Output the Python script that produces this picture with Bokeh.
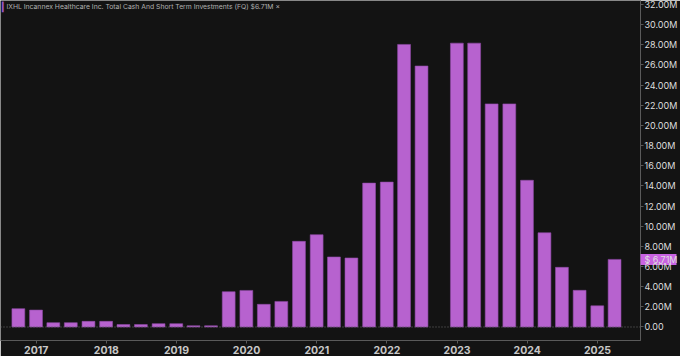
import numpy as np
import pandas as pd
from bokeh.plotting import figure
from bokeh.models import (ColumnDataSource, LinearAxis, DatetimeAxis, Range1d,
                          FixedTicker, Span, Label, YearsTicker, AllLabels)
from bokeh.embed import file_html
from bokeh.resources import INLINE

# ---- data ----
quarter_ends = ["2016-09-30", "2016-12-31", "2017-03-31", "2017-06-30", "2017-09-30",
                "2017-12-31", "2018-03-31", "2018-06-30", "2018-09-30", "2018-12-31",
                "2019-03-31", "2019-06-30", "2019-09-30", "2019-12-31", "2020-03-31",
                "2020-06-30", "2020-09-30", "2020-12-31", "2021-03-31", "2021-06-30",
                "2021-09-30", "2021-12-31", "2022-03-31", "2022-06-30", "2022-09-30",
                "2022-12-31", "2023-03-31", "2023-06-30", "2023-09-30", "2023-12-31",
                "2024-03-31", "2024-06-30", "2024-09-30", "2024-12-31", "2025-03-31"]
cash_musd = [1.82, 1.68, 0.43, 0.43, 0.56,
             0.56, 0.24, 0.24, 0.33, 0.33,
             0.12, 0.12, 3.50, 3.63, 2.25,
             2.54, 8.50, 9.16, 6.95, 6.85,
             14.28, 14.38, 28.04, 25.90, float("nan"),
             28.17, 28.17, 22.14, 22.14, 14.56,
             9.35, 5.92, 3.64, 2.10, 6.71]
y_ticks = [0, 2, 4, 6, 8, 10, 12, 14, 16, 18, 20, 22, 24, 26, 28, 30, 32]
y_tick_labels = ["0.00"] + [f"{t:.2f}M" for t in y_ticks[1:]]
last_value = cash_musd[-1]
last_value_label = "$ 6.71M"
title_text = "IXHL   Incannex Healthcare Inc.   Total Cash And Short Term Investments (FQ)   $6.71M   \u00d7"

BG = "#131313"
BAR = "#b762cf"
TXT = "#c8c8c8"
FONT = "Inter"

src = ColumnDataSource(dict(x=pd.to_datetime(quarter_ends), top=cash_musd))

p = figure(width=680, height=356, x_axis_type=None, y_axis_location=None,
           output_backend="svg", toolbar_location=None,
           x_range=Range1d(pd.Timestamp("2016-06-29"), pd.Timestamp("2025-08-13")),
           y_range=Range1d(-1.34, 32.4),
           background_fill_color=BG, border_fill_color=BG,
           min_border_left=0, min_border_top=0, min_border_right=36, min_border_bottom=15)
p.outline_line_color = None
p.xgrid.visible = False
p.ygrid.visible = False

bar_w = 67 * 24 * 3600 * 1000
p.vbar(x="x", top="top", bottom=0, width=bar_w, source=src,
       fill_color=BAR, line_color="#8f4aa6", line_width=0.6)

p.add_layout(Span(location=0, dimension="width", line_color="#6a6a6a",
                  line_dash="1 2", line_width=1))

xa = DatetimeAxis(ticker=YearsTicker(desired_num_ticks=10))
xa.formatter.years = "%Y"
xa.axis_line_color = "#5a5a5a"
xa.major_tick_line_color = "#5a5a5a"
xa.major_tick_out = 3
xa.major_tick_in = 0
xa.minor_tick_line_color = None
xa.major_label_text_color = TXT
xa.major_label_text_font = FONT
xa.major_label_text_font_size = "10.5px"
xa.major_label_text_font_style = "bold"
xa.major_label_standoff = 2
p.add_layout(xa, "below")

# right axis: regular ticks plus the last-value marker (pink box = thick minor tick)
overrides = {t: l for t, l in zip(y_ticks, y_tick_labels)}
overrides[last_value] = last_value_label
ya = LinearAxis(ticker=FixedTicker(ticks=y_ticks + [last_value], minor_ticks=[last_value]),
                major_label_overrides=overrides, major_label_policy=AllLabels())
ya.axis_line_color = "#5a5a5a"
ya.major_tick_line_color = "#5a5a5a"
ya.major_tick_out = 3
ya.major_tick_in = 0
ya.minor_tick_line_color = "#c963e2"
ya.minor_tick_line_width = 11
ya.minor_tick_out = 36
ya.minor_tick_in = 0
ya.major_label_text_color = "#dedede"
ya.major_label_text_font = FONT
ya.major_label_text_font_size = "9px"
ya.major_label_standoff = -32
p.add_layout(ya, "right")

p.add_layout(Label(x=1.5, y=p.height - 15 - 12, x_units="screen", y_units="screen",
                   text="\u258e", text_color="#9a55c8", text_font_size="9px"))
p.add_layout(Label(x=6, y=p.height - 15 - 11, x_units="screen", y_units="screen",
                   text=title_text, text_color="#b0b0b0", text_font=FONT,
                   text_font_size="6.8px"))

open("out.html", "w").write(file_html(p, INLINE))
